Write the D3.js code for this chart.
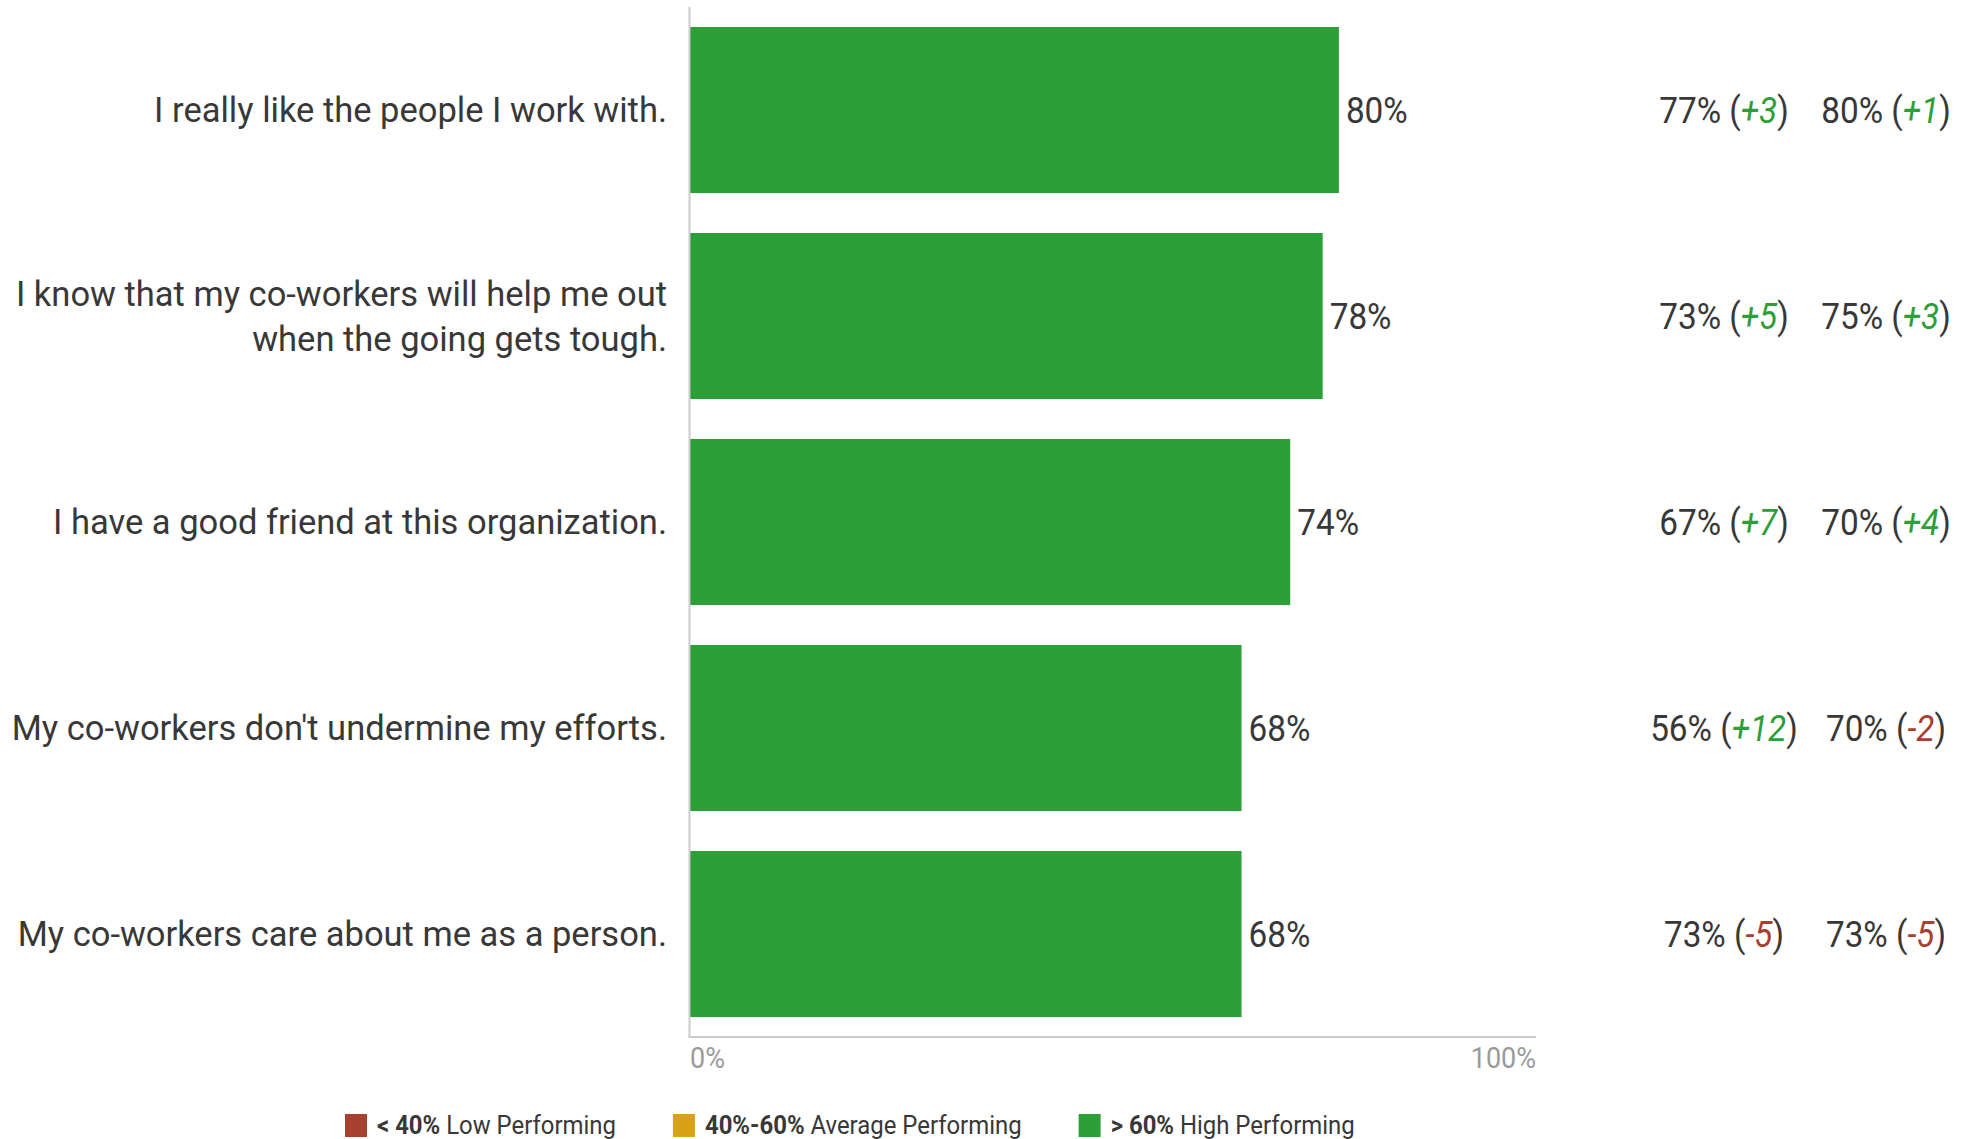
<!DOCTYPE html>
<html>
<head>
<meta charset="utf-8">
<script src="https://cdn.jsdelivr.net/npm/d3@7"></script>
<style>
  html, body { margin: 0; padding: 0; background: #fff; }
  svg { display: block; }
  text { font-family: Roboto, "Noto Sans", sans-serif; }
</style>
</head>
<body>
<svg id="chart" width="1965" height="1139"></svg>
<script>
// Survey items (each entry is a list of label lines)
const categories = [
  ["I really like the people I work with."],
  ["I know that my co-workers will help me out", "when the going gets tough."],
  ["I have a good friend at this organization."],
  ["My co-workers don't undermine my efforts."],
  ["My co-workers care about me as a person."]
];
// Favourable score (%)
const scores = [80, 78, 74, 68, 68];
// Comparison columns: benchmark score and difference
const compA = [77, 73, 67, 56, 73];
const deltaA = [3, 5, 7, 12, -5];
const compB = [80, 75, 70, 70, 73];
const deltaB = [1, 3, 4, -2, -5];
// Axis tick labels
const tickValues = [0, 100];
const tickLabels = ["0%", "100%"];
// Legend
const legendBold = ["< 40%", "40%-60%", "> 60%"];
const legendText = ["Low Performing", "Average Performing", "High Performing"];
const legendColors = ["#a6402f", "#d9a116", "#2c9f38"];

const svg = d3.select("#chart");
const COND = 0.9;           // horizontal squeeze for the condensed number font
const textDark = "#383838";
const posColor = "#2c9f38", negColor = "#a6402f";

const left = 690, axisEnd = 1536;
const x = d3.scaleLinear().domain([0, 104.3]).range([left, axisEnd]);
const y = d3.scaleBand().domain(d3.range(categories.length))
  .range([7, 1037]).paddingInner(0.194).paddingOuter(0.097);

const band = (v) => v >= 60 ? legendColors[2] : v >= 40 ? legendColors[1] : legendColors[0];

// condensed text helper
function condText(g, px, py, size, anchor, squeeze = COND) {
  return g.append("g").attr("transform", `translate(${px},${py})`)
    .append("text").attr("transform", `scale(${squeeze},1)`)
    .attr("text-anchor", anchor).attr("dominant-baseline", "central")
    .attr("font-size", size);
}

// bars
svg.append("g").selectAll("rect").data(scores).join("rect")
  .attr("x", x(0))
  .attr("y", (d, i) => y(i))
  .attr("width", d => x(d) - x(0))
  .attr("height", y.bandwidth())
  .attr("fill", d => band(d));

// axis lines
svg.append("line").attr("x1", left - 0.5).attr("x2", left - 0.5)
  .attr("y1", 7).attr("y2", 1037).attr("stroke", "#cccccc").attr("stroke-width", 2);
svg.append("line").attr("x1", left - 1.5).attr("x2", axisEnd)
  .attr("y1", 1037).attr("y2", 1037).attr("stroke", "#cccccc").attr("stroke-width", 2);

// tick labels
const ticks = svg.append("g");
tickValues.forEach((t, i) => {
  const px = i === 0 ? x(0) : axisEnd;
  condText(ticks, px, 1058, 30, i === 0 ? "start" : "end")
    .attr("fill", "#9a9a9a").text(tickLabels[i]);
});

// category labels
const labels = svg.append("g");
categories.forEach((lines, i) => {
  const cy = y(i) + y.bandwidth() / 2;
  const lh = 45;
  lines.forEach((ln, j) => {
    labels.append("text")
      .attr("x", 667)
      .attr("y", cy + (j - (lines.length - 1) / 2) * lh)
      .attr("text-anchor", "end").attr("dominant-baseline", "central")
      .attr("font-size", 34.5).attr("fill", textDark).text(ln);
  });
});

// value labels
const vals = svg.append("g");
scores.forEach((v, i) => {
  condText(vals, x(v) + 7, y(i) + y.bandwidth() / 2, 37, "start")
    .attr("fill", textDark).text(v + "%");
});

// comparison columns
function compColumn(cx, comps, deltas) {
  const g = svg.append("g");
  comps.forEach((c, i) => {
    const t = condText(g, cx, y(i) + y.bandwidth() / 2, 37, "middle").attr("fill", textDark);
    const d = deltas[i];
    t.append("tspan").text(c + "% (");
    t.append("tspan").attr("font-style", "italic")
      .attr("fill", d >= 0 ? posColor : negColor)
      .text((d >= 0 ? "+" : "-") + Math.abs(d));
    t.append("tspan").text(")");
  });
}
compColumn(1724, compA, deltaA);
compColumn(1886, compB, deltaB);

// legend
const legend = svg.append("g");
let lx = 345;
const LSQ = 0.92;
legendBold.forEach((b, i) => {
  legend.append("rect").attr("x", lx).attr("y", 1114).attr("width", 22).attr("height", 23)
    .attr("fill", legendColors[i]);
  const t = condText(legend, lx + 32, 1125, 26, "start", LSQ).attr("fill", textDark);
  t.append("tspan").attr("font-weight", "bold").text(b);
  t.append("tspan").text(" " + legendText[i]);
  lx += 32 + t.node().getComputedTextLength() * LSQ + 57;
});
</script>
</body>
</html>
